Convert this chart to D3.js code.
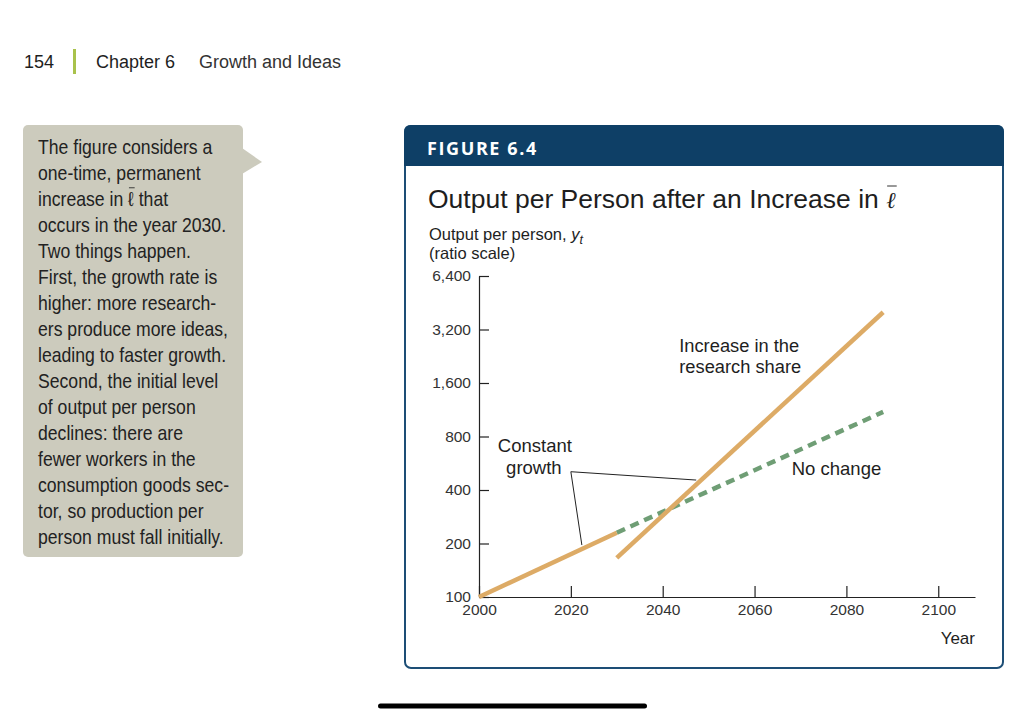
<!DOCTYPE html>
<html>
<head>
<meta charset="utf-8">
<script src="https://cdn.jsdelivr.net/npm/d3@7"></script>
<style>
  body { margin: 0; background: #fff; }
  svg { display: block; }
  text { font-family: "Liberation Sans", Arial, sans-serif; fill: #1e1e1e; }
</style>
</head>
<body>
<svg id="page" width="1024" height="715"></svg>
<script>
// chart values
const yearTicks = [2000, 2020, 2040, 2060, 2080, 2100];
const outputTicks = [100, 200, 400, 800, 1600, 3200, 6400];
const constantGrowth = [[2000, 100], [2030, 230]];
const noChange = [[2030, 230], [2088, 1100]];
const researchShare = [[2030, 166], [2088, 4000]];

// annotation anchors, in data space
const leaderConstant = [[2047.3, 455], [2020.0, 507], [2022.4, 196]];
const labelConstant = [[2004.1, 657, "Constant"], [2005.9, 0, "growth"]];
const labelResearch = [2043.6, 2400, ["Increase in the", "research share"]];
const labelNoChange = [2068.1, 486, "No change"];

const sideNote = [
  "The figure considers a",
  "one-time, permanent",
  "increase in \u2113 that",
  "occurs in the year 2030.",
  "Two things happen.",
  "First, the growth rate is",
  "higher: more research-",
  "ers produce more ideas,",
  "leading to faster growth.",
  "Second, the initial level",
  "of output per person",
  "declines: there are",
  "fewer workers in the",
  "consumption goods sec-",
  "tor, so production per",
  "person must fall initially."
];

const svg = d3.select("#page");

// overline over one character of a text element, drawn in parent
function overlineChar(parent, textEl, idx, lift, pad) {
  const node = textEl.node();
  const a = node.getStartPositionOfChar(idx);
  const b = node.getEndPositionOfChar(idx);
  const box = node.getExtentOfChar(idx);
  parent.append("line")
    .attr("x1", a.x + pad).attr("x2", b.x + pad)
    .attr("y1", box.y - lift).attr("y2", box.y - lift)
    .attr("stroke", "#333").attr("stroke-width", 1);
}

// page header
svg.append("text").attr("x", 24).attr("y", 68).attr("font-size", 18).text("154");
svg.append("rect").attr("x", 73).attr("y", 49).attr("width", 3).attr("height", 25).attr("fill", "#a9c24c");
svg.append("text").attr("x", 96).attr("y", 68).attr("font-size", 18).text("Chapter 6");
svg.append("text").attr("x", 199).attr("y", 68).attr("font-size", 18).attr("font-weight", 300)
  .style("fill", "#333").text("Growth and Ideas");

// side note
svg.append("rect").attr("x", 23).attr("y", 125).attr("width", 220).attr("height", 432)
  .attr("rx", 5).attr("fill", "#cccbbd");
svg.append("path").attr("d", "M242,148 L262,162 L242,174 Z").attr("fill", "#cccbbd");

// no narrow face installed, so squeeze a regular one
const noteG = svg.append("g").attr("transform", "translate(38,0) scale(0.86,1)");
const note = noteG.append("text")
  .attr("x", 0).attr("y", 154)
  .attr("font-size", 20.5)
  .style("fill", "#222");
note.selectAll("tspan").data(sideNote).join("tspan")
  .attr("x", 0).attr("dy", (d, i) => i ? 26 : 0)
  .text(d => d);
overlineChar(noteG, note, sideNote[0].length + sideNote[1].length + "increase in ".length, 0, 1);

// figure frame
svg.append("rect").attr("x", 405).attr("y", 126).attr("width", 598).attr("height", 542)
  .attr("rx", 6).attr("fill", "#fff").attr("stroke", "#1d4e76").attr("stroke-width", 2);
svg.append("path")
  .attr("d", "M404,166 V132 Q404,125 411,125 H997 Q1004,125 1004,132 V166 Z")
  .attr("fill", "#0e3f66");
svg.append("text").attr("x", 427).attr("y", 155)
  .attr("font-size", 18).attr("font-weight", "bold").attr("letter-spacing", 1.6)
  .style("font-family", "'Open Sans', sans-serif").style("fill", "#fff")
  .text("FIGURE 6.4");

// title
const title = svg.append("text").attr("x", 428).attr("y", 208).attr("font-size", 26.5);
title.append("tspan").text("Output per Person after an Increase in ");
title.append("tspan").style("font-family", "'DejaVu Serif', serif").attr("font-style", "italic")
  .attr("font-size", 23).text("\u2113");
overlineChar(svg, title, "Output per Person after an Increase in ".length, 1, 1);

const sub = svg.append("text").attr("x", 429).attr("y", 240).attr("font-size", 16.5);
sub.append("tspan").text("Output per person, ");
sub.append("tspan").attr("font-style", "italic").text("y");
sub.append("tspan").attr("font-style", "italic").attr("font-size", 12.5).attr("dy", 4).text("t");
svg.append("text").attr("x", 429).attr("y", 259).attr("font-size", 16.5).text("(ratio scale)");

// scales
const x = d3.scaleLinear().domain([2000, 2108]).range([479, 975]);
const y = d3.scaleLog().base(2).domain([100, 6400]).range([597, 276]);

const yAxis = d3.axisLeft(y).tickValues(outputTicks).tickFormat(d3.format(","))
  .tickSizeInner(-10).tickSizeOuter(0).tickPadding(8);
const xAxis = d3.axisBottom(x).tickValues(yearTicks).tickFormat(d3.format("d"))
  .tickSizeInner(-11).tickSizeOuter(0).tickPadding(7);

const gy = svg.append("g").attr("transform", `translate(${x(2000)},0)`).call(yAxis);
const gx = svg.append("g").attr("transform", `translate(0,${y(100)})`).call(xAxis);
[gx, gy].forEach(g => {
  g.select(".domain").attr("stroke", "#222").attr("stroke-width", 1.2);
  g.selectAll(".tick line").attr("stroke", "#222").attr("stroke-width", 1.2);
  g.selectAll(".tick text").attr("font-size", 15.5)
    .style("font-family", "'Liberation Sans', Arial, sans-serif").style("fill", "#333");
});

svg.append("text").attr("x", x.range()[1]).attr("y", y(100) + 47)
  .attr("text-anchor", "end").attr("font-size", 17).text("Year");

// lines
const line = d3.line().x(d => x(d[0])).y(d => y(d[1]));

svg.append("path").datum(noChange).attr("d", line)
  .attr("fill", "none").attr("stroke", "#6f9e75").attr("stroke-width", 4.5)
  .attr("stroke-dasharray", "9,6");
svg.append("path").datum(constantGrowth).attr("d", line)
  .attr("fill", "none").attr("stroke", "#ddab66").attr("stroke-width", 4.5);
svg.append("path").datum(researchShare).attr("d", line)
  .attr("fill", "none").attr("stroke", "#ddab66").attr("stroke-width", 4.5);

// annotations
svg.append("path").datum(leaderConstant).attr("d", line)
  .attr("fill", "none").attr("stroke", "#222").attr("stroke-width", 1);

const tc = svg.append("text").attr("font-size", 18.5);
tc.append("tspan").attr("x", x(labelConstant[0][0])).attr("y", y(labelConstant[0][1])).text(labelConstant[0][2]);
tc.append("tspan").attr("x", x(labelConstant[1][0])).attr("dy", 22).text(labelConstant[1][2]);

const tr = svg.append("text").attr("font-size", 18.3);
tr.selectAll("tspan").data(labelResearch[2]).join("tspan")
  .attr("x", x(labelResearch[0]))
  .attr("y", (d, i) => y(labelResearch[1]) + i * 21.6)
  .text(d => d);

svg.append("text").attr("x", x(labelNoChange[0])).attr("y", y(labelNoChange[1]))
  .attr("font-size", 18.5).text(labelNoChange[2]);

// home indicator
svg.append("rect").attr("x", 378).attr("y", 703.5).attr("width", 269).attr("height", 5)
  .attr("rx", 2.5).attr("fill", "#000");
</script>
</body>
</html>
